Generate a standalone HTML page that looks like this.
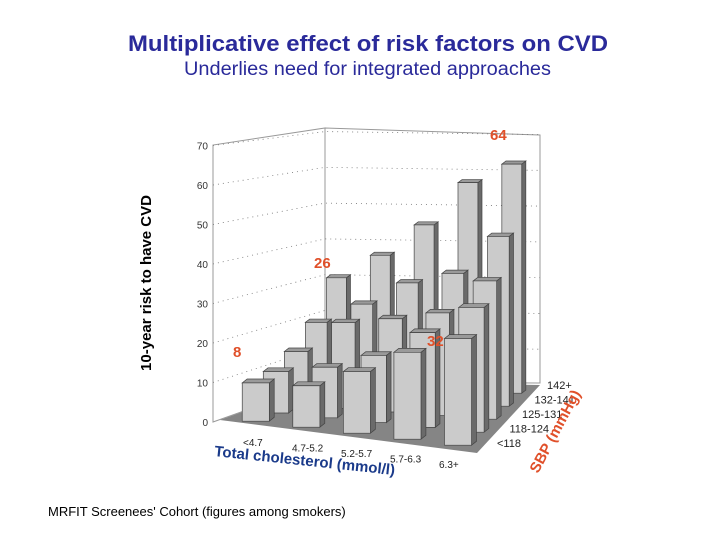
<!DOCTYPE html>
<html><head><meta charset="utf-8"><style>
html,body{margin:0;padding:0;background:#fff;}
svg{display:block;font-family:"Liberation Sans",sans-serif;}
</style></head><body>
<svg id="chart" width="720" height="540" viewBox="0 0 720 540">
<text x="128" y="51" font-size="22" font-weight="bold" fill="#2a2a9a" textLength="480" lengthAdjust="spacingAndGlyphs">Multiplicative effect of risk factors on CVD</text>
<text x="184" y="75" font-size="19" fill="#2a2a9a" textLength="367" lengthAdjust="spacingAndGlyphs">Underlies need for integrated approaches</text>
<text transform="translate(151,283) rotate(-90)" text-anchor="middle" font-size="15" font-weight="bold" fill="#000">10-year risk to have CVD</text>
<text x="48" y="516" font-size="13" fill="#000">MRFIT Screenees' Cohort (figures among smokers)</text>
<g id="plot"></g>
</svg>
<script>
const cholCats = ["<4.7","4.7-5.2","5.2-5.7","5.7-6.3","6.3+"];
const sbpCats = ["<118","118-124","125-131","132-141","142+"];
const yTicks = [0,10,20,30,40,50,60,70];
const row0 = [9.7,10.5,15.6,22,27];
const row1 = [10.5,12.8,17,24,31.6];
const row2 = [13.5,21.7,23.6,26,35];
const row3 = [18.8,24,30,33,43];
const row4 = [28,34,42,53,58];
const calloutVals = ["8","26","32","64"];
const values = [row0,row1,row2,row3,row4];

const NS="http://www.w3.org/2000/svg";
const plot=document.getElementById('plot');
const FL=[220,420],FR=[477,453],BL=[325,382],BR=[540,385];
const hs=3.95;
function base(u,v){
  const fx=FL[0]+(FR[0]-FL[0])*u, fy=FL[1]+(FR[1]-FL[1])*u;
  const bx=BL[0]+(BR[0]-BL[0])*u, by=BL[1]+(BR[1]-BL[1])*u;
  return [fx+(bx-fx)*v, fy+(by-fy)*v];
}
function yAxis(v){return 422-v*hs;}
function mk(tag,attrs){const e=document.createElementNS(NS,tag);for(const k in attrs)e.setAttribute(k,attrs[k]);plot.appendChild(e);return e;}

let w=mk('polygon',{points:"213,422 213,145 325,128 325,382",fill:"#fff",stroke:"#999","stroke-width":"1"});


w=mk('polygon',{points:"325,128 540,135 540,383 325,382",fill:"#fff",stroke:"#999","stroke-width":"1"});


yTicks.forEach(t=>{
  const y=yAxis(t);
  const yb=382-(382-128)*t/71;
  if(t>0){
    const g=mk('polyline',{points:`213,${y} 325,${yb} 540,${yb+3}`,fill:"none",stroke:"#777","stroke-width":"0.8","stroke-dasharray":"1,4"});
    
    
  }
  const tx=mk('text',{x:208,y:y+4,"text-anchor":"end","font-size":"10",fill:"#333"});
  tx.textContent=t;
  
  
});
w=mk('polygon',{points:"220,420 325,382 540,385 477,453",fill:"#858585"});


for(let r=values.length-1;r>=0;r--){
  for(let c=0;c<values[r].length;c++){
    const v=values[r][c];
    const u=(c+0.5)/5, vv=(r+0.5)/5;
    const b=base(u,vv);
    const bw=28-9*vv, sd=5-1*vv, td=4-1*vv;
    const x=b[0]-bw/2, yb=b[1]+2, yt=yb-v*hs;
    const g=document.createElementNS(NS,'g');plot.appendChild(g);
    
    
    const add=(pts,f)=>{const p=document.createElementNS(NS,'polygon');p.setAttribute('points',pts);p.setAttribute('fill',f);p.setAttribute('stroke','#444');p.setAttribute('stroke-width','0.7');g.appendChild(p);};
    add(`${x+bw},${yt} ${x+bw+sd},${yt-td} ${x+bw+sd},${yb-td} ${x+bw},${yb}`,"#6a6a6a");
    add(`${x},${yt} ${x+sd},${yt-td} ${x+bw+sd},${yt-td} ${x+bw},${yt}`,"#9a9a9a");
    add(`${x},${yt} ${x+bw},${yt} ${x+bw},${yb} ${x},${yb}`,"#cbcbcb");
  }
}
cholCats.forEach((c,i)=>{
  const t=mk('text',{x:243+i*49,y:446+i*5.5,"font-size":"10",fill:"#222"});
  t.textContent=c;
  
  
});
sbpCats.forEach((s,i)=>{
  const t=mk('text',{x:497+i*12.5,y:447-i*14.5,"font-size":"11",fill:"#222"});
  t.textContent=s;
  
  
});
let t=mk('text',{transform:"translate(214,456) rotate(6)","font-size":"15","font-weight":"bold",fill:"#1a3a8a"});
t.textContent="Total cholesterol (mmol/l)";


t=mk('text',{transform:"translate(538,474) rotate(-62)","font-size":"15","font-weight":"bold",fill:"#e0502a"});
t.textContent="SBP (mmHg)";


const cpos=[[233,357],[314,268],[427,346],[490,140]];
calloutVals.forEach((v,i)=>{
  const e=mk('text',{x:cpos[i][0],y:cpos[i][1],"font-size":"15","font-weight":"bold",fill:"#e0502a"});
  e.textContent=v;
  
  
});
</script>
</body></html>
